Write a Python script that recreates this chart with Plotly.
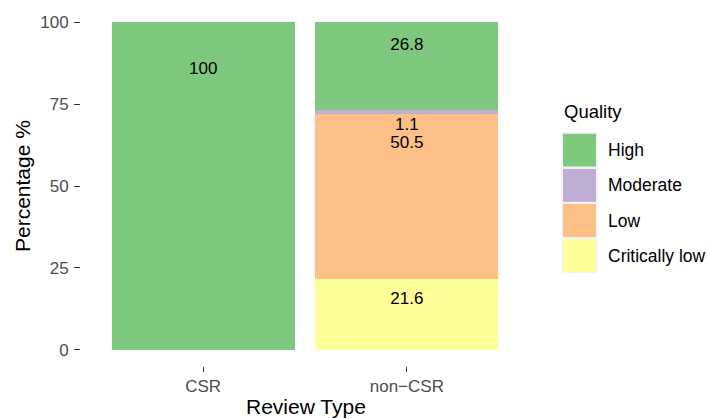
import plotly.graph_objects as go

# ---- data ----
categories = ["CSR", "non\u2212CSR"]
quality_levels = ["High", "Moderate", "Low", "Critically low"]
high = [100, 26.8]
moderate = [0, 1.1]
low = [0, 50.5]
critically_low = [0, 21.6]
colors = {"High": "#7FC97F", "Moderate": "#BEAED4", "Low": "#FDC086", "Critically low": "#FFFF99"}

# value labels as drawn in the picture (category, text, y position)
label_cat = ["CSR", "non\u2212CSR", "non\u2212CSR", "non\u2212CSR", "non\u2212CSR"]
label_text = ["100", "26.8", "1.1", "50.5", "21.6"]
label_y = [85.4, 92.8, 68.4, 62.9, 15.3]

y_ticks = [0, 25, 50, 75, 100]

series = {"High": high, "Moderate": moderate, "Low": low, "Critically low": critically_low}

FONT = "Liberation Sans, Arial, sans-serif"
W, H = 708, 419
ML, MR, MT, MB = 81, 179, 6, 53
PW, PH = W - ML - MR, H - MT - MB

fig = go.Figure()
# stack bottom-up: Critically low, Low, Moderate, High
for q in ["Critically low", "Low", "Moderate", "High"]:
    fig.add_trace(go.Bar(
        x=categories, y=series[q], name=q,
        marker=dict(color=colors[q], line=dict(width=0)),
        showlegend=False, hoverinfo="skip",
    ))

fig.add_trace(go.Scatter(
    x=label_cat, y=label_y, text=label_text, mode="text",
    textposition="middle center",
    textfont=dict(family=FONT, size=17, color="black"),
    showlegend=False, hoverinfo="skip",
))

def px_x(px):
    return (px - ML) / PW

def px_y(py):
    return (H - MB - py) / PH

shapes = []
annotations = []
# axis titles
annotations.append(dict(
    x=px_x(306), y=px_y(406), xref="paper", yref="paper",
    text="Review Type", showarrow=False, xanchor="center", yanchor="middle",
    font=dict(family=FONT, size=21, color="black"),
))
annotations.append(dict(
    x=px_x(22), y=px_y(186), xref="paper", yref="paper",
    text="Percentage %", showarrow=False, xanchor="center", yanchor="middle",
    textangle=-90, font=dict(family=FONT, size=21, color="black"),
))
# manual legend (ggplot-like large keys)
annotations.append(dict(
    x=px_x(562), y=px_y(112), xref="paper", yref="paper",
    text="Quality", showarrow=False, xanchor="left", yanchor="middle",
    font=dict(family=FONT, size=18.5, color="black"),
))
key_top = 132.5
key_h = 35.2
for i, q in enumerate(quality_levels):
    t = key_top + i * key_h
    shapes.append(dict(type="rect", xref="paper", yref="paper",
                       x0=px_x(561.5), x1=px_x(597.5), y0=px_y(t), y1=px_y(t + key_h),
                       fillcolor="#F2F2F2", line=dict(width=0), layer="below"))
    shapes.append(dict(type="rect", xref="paper", yref="paper",
                       x0=px_x(563), x1=px_x(596), y0=px_y(t + 1.2), y1=px_y(t + key_h - 1.2),
                       fillcolor=colors[q], line=dict(width=0)))
    annotations.append(dict(
        x=px_x(606), y=px_y(t + key_h / 2), xref="paper", yref="paper",
        text=q, showarrow=False, xanchor="left", yanchor="middle",
        font=dict(family=FONT, size=17.5, color="black"),
    ))

fig.update_layout(
    width=W, height=H,
    margin=dict(l=ML, r=MR, t=MT, b=MB, pad=0, autoexpand=False),
    paper_bgcolor="white", plot_bgcolor="white",
    barmode="stack", bargap=0.1,
    showlegend=False,
    shapes=shapes, annotations=annotations,
    font=dict(family=FONT),
)
fig.update_xaxes(
    type="category", range=[-0.6, 1.6], automargin=False,
    showgrid=False, zeroline=False, showline=False,
    ticks="outside", ticklen=5, tickwidth=1.1, tickcolor="#333333",
    tickfont=dict(family=FONT, size=17, color="#4D4D4D"),
)
fig.update_yaxes(
    range=[-5, 105], tickvals=y_ticks, ticktext=[str(v) for v in y_ticks],
    automargin=False,
    showgrid=False, zeroline=False, showline=False,
    ticks="outside", ticklen=6, tickwidth=1.1, tickcolor="#333333",
    tickfont=dict(family=FONT, size=17, color="#4D4D4D"),
    ticklabelstandoff=2,
)

fig.write_html(
    "out.html",
    config={"displayModeBar": False},
    post_script="document.body.style.margin='0';document.body.style.padding='0';",
)
